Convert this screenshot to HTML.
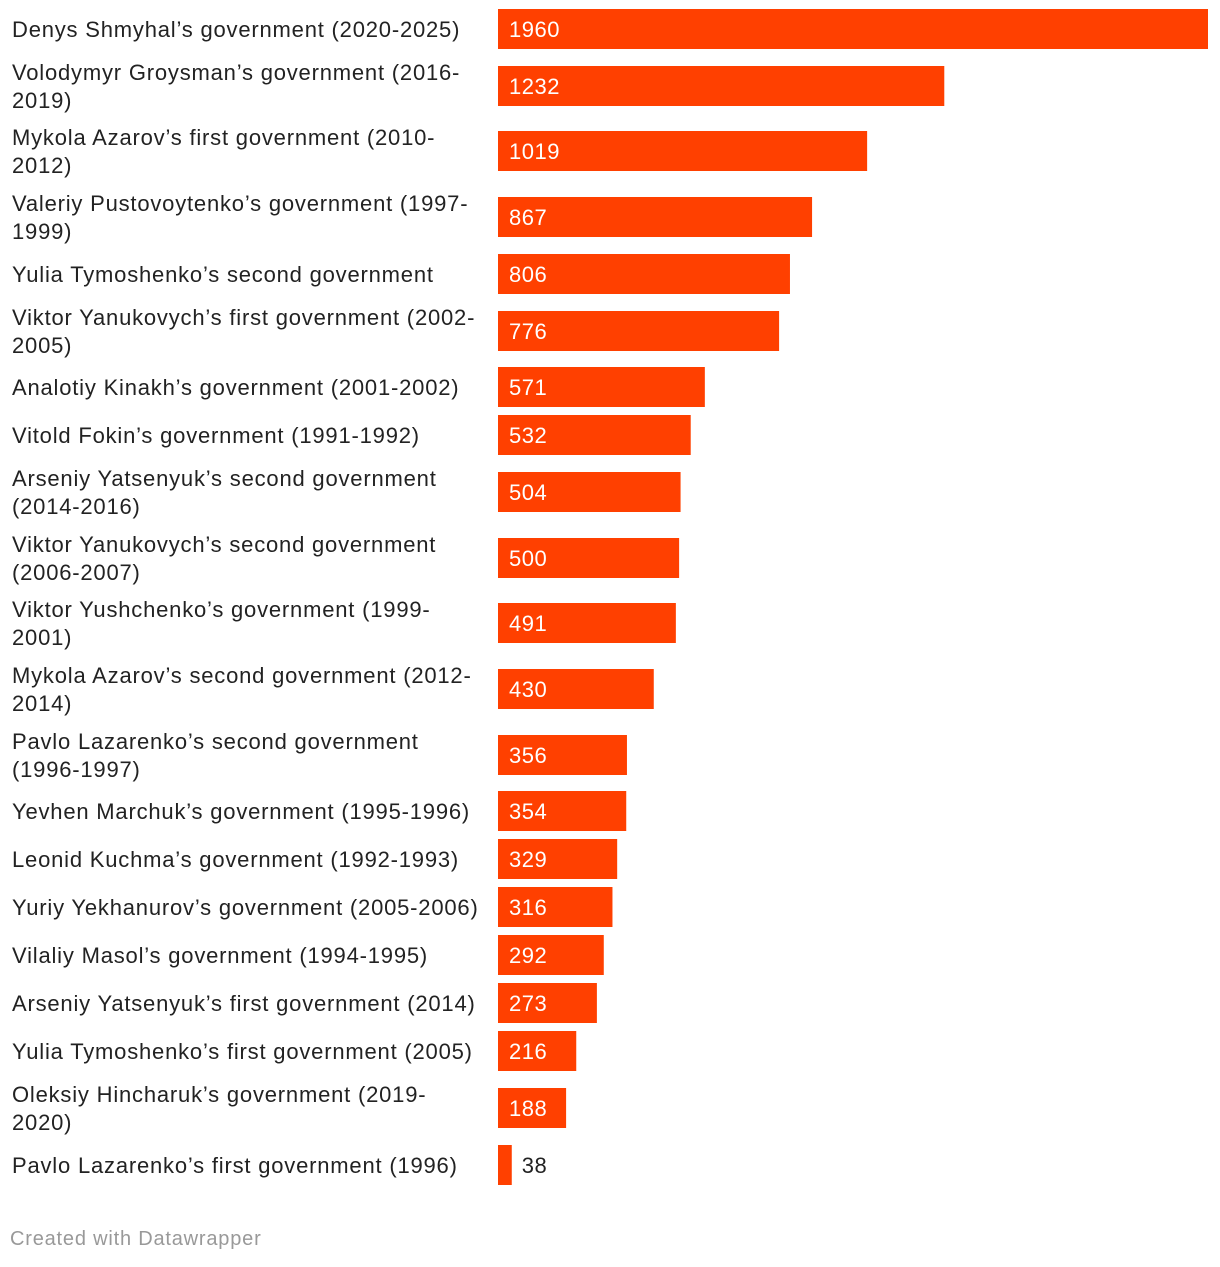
<!DOCTYPE html>
<html><head><meta charset="utf-8">
<style>
body{margin:0;background:#fff;width:1220px;height:1262px;overflow:hidden;font-family:"Liberation Sans",Arial,sans-serif;}
svg text{font-family:"Liberation Sans",Arial,sans-serif;}
</style></head>
<body>
<svg id="chart" width="1220" height="1262" xmlns="http://www.w3.org/2000/svg">
<text x="10" y="1245" font-size="20" letter-spacing="0.8" fill="#999">Created with Datawrapper</text>
</svg>
<script>
const labels = [
 ["Denys Shmyhal’s government (2020-2025)"],
 ["Volodymyr Groysman’s government (2016-","2019)"],
 ["Mykola Azarov’s first government (2010-","2012)"],
 ["Valeriy Pustovoytenko’s government (1997-","1999)"],
 ["Yulia Tymoshenko’s second government"],
 ["Viktor Yanukovych’s first government (2002-","2005)"],
 ["Analotiy Kinakh’s government (2001-2002)"],
 ["Vitold Fokin’s government (1991-1992)"],
 ["Arseniy Yatsenyuk’s second government","(2014-2016)"],
 ["Viktor Yanukovych’s second government","(2006-2007)"],
 ["Viktor Yushchenko’s government (1999-","2001)"],
 ["Mykola Azarov’s second government (2012-","2014)"],
 ["Pavlo Lazarenko’s second government","(1996-1997)"],
 ["Yevhen Marchuk’s government (1995-1996)"],
 ["Leonid Kuchma’s government (1992-1993)"],
 ["Yuriy Yekhanurov’s government (2005-2006)"],
 ["Vilaliy Masol’s government (1994-1995)"],
 ["Arseniy Yatsenyuk’s first government (2014)"],
 ["Yulia Tymoshenko’s first government (2005)"],
 ["Oleksiy Hincharuk’s government (2019-","2020)"],
 ["Pavlo Lazarenko’s first government (1996)"]
];
const values = [1960,1232,1019,867,806,776,571,532,504,500,491,430,356,354,329,316,292,273,216,188,38];
const maxValue = 1960;

const svg = document.getElementById('chart');
const NS = 'http://www.w3.org/2000/svg';
const x0 = 498, plotW = 710, barH = 40;
const xScale = v => v / maxValue * plotW;
const rowH = l => l.length > 1 ? 65.6 : 48;
let cy = 29;
values.forEach((v, i) => {
  if (i > 0) cy += (rowH(labels[i-1]) + rowH(labels[i])) / 2;
  const y = Math.round(cy);
  const g = document.createElementNS(NS, 'g');
  
  
  const lines = labels[i];
  lines.forEach((ln, j) => {
    const t = document.createElementNS(NS, 'text');
    
    
    t.setAttribute('x', 12);
    t.setAttribute('y', y + 8 + (j - (lines.length - 1) / 2) * 28);
    t.setAttribute('font-size', '22');
    t.setAttribute('letter-spacing', '0.8');
    t.setAttribute('fill', '#222');
    t.textContent = ln;
    g.appendChild(t);
  });
  const w = xScale(v);
  const r = document.createElementNS(NS, 'rect');
  
  
  r.setAttribute('x', x0);
  r.setAttribute('y', y - barH / 2);
  r.setAttribute('width', w);
  r.setAttribute('height', barH);
  r.setAttribute('fill', '#ff4000');
  g.appendChild(r);
  const vt = document.createElementNS(NS, 'text');
  
  
  const inside = w > 60;
  vt.setAttribute('x', inside ? x0 + 11 : x0 + w + 10);
  vt.setAttribute('y', y + 8);
  vt.setAttribute('font-size', '22');
  vt.setAttribute('letter-spacing', '0.5');
  vt.setAttribute('fill', inside ? '#fff' : '#222');
  vt.textContent = v;
  g.appendChild(vt);
  svg.appendChild(g);
});
</script>
</body></html>
